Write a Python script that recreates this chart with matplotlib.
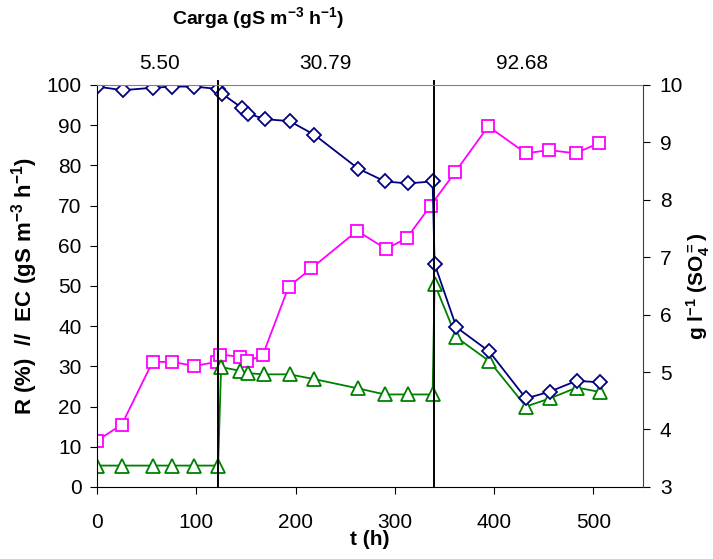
import matplotlib
matplotlib.use("Agg")
import matplotlib.pyplot as plt

plt.rcParams['font.family'] = ['Liberation Sans', 'DejaVu Sans']
plt.rcParams['mathtext.default'] = 'regular'

# R (%) - removal efficiency
t_r = [0, 26, 56, 76, 98, 122, 126, 146, 152, 169, 194, 219, 263, 290, 313, 338, 340, 362, 395, 432, 456, 483, 507]
r_val = [99.6, 98.7, 99.3, 99.6, 99.6, 99.0, 97.8, 94.3, 92.9, 91.5, 91.0, 87.6, 79.2, 76.0, 75.5, 76.0, 55.5, 39.7, 33.7, 22.0, 23.7, 26.4, 26.0]

# magenta squares
t_s = [0, 25, 56, 76, 98, 121, 124, 144, 151, 167, 193, 216, 262, 291, 312, 336, 361, 394, 432, 455, 482, 506]
s_val = [11.5, 15.5, 31.1, 31.1, 30.1, 31.1, 32.9, 32.4, 31.2, 32.8, 49.8, 54.4, 63.7, 59.2, 61.9, 70.0, 78.4, 89.7, 83.0, 83.8, 83.0, 85.6]

# EC - green triangles
t_ec = [0, 25, 56, 76, 98, 122, 125, 144, 152, 168, 194, 219, 263, 290, 313, 338, 340, 362, 395, 432, 456, 483, 507]
ec_val = [5.3, 5.3, 5.3, 5.3, 5.3, 5.3, 29.8, 28.9, 28.3, 28.0, 28.0, 26.8, 24.5, 23.0, 23.0, 23.0, 50.5, 37.2, 31.3, 20.0, 22.0, 24.7, 23.6]

stage_bounds = [122, 339]
stage_labels = ['5.50', '30.79', '92.68']
stage_label_x = [63, 230, 428]

fig = plt.figure(figsize=(7.13, 5.59), dpi=100)
ax = fig.add_axes([0.136, 0.129, 0.766, 0.719])

ax.plot(t_s, s_val, color='#FF00FF', lw=1.3, marker='s', ms=9, mfc='white', mec='#FF00FF', mew=1.3)
ax.plot(t_ec, ec_val, color='#008000', lw=1.3, marker='^', ms=10, mfc='white', mec='#008000', mew=1.3)
ax.plot(t_r, r_val, color='#000080', lw=1.3, marker='D', ms=7, mfc='white', mec='#000080', mew=1.3)

for xb in stage_bounds:
    ax.axvline(xb, ymin=0, ymax=1.01, color='black', lw=1.4, clip_on=False)

ax.set_xlim(0, 550)
ax.set_ylim(0, 100)
ax.set_xticks([0, 100, 200, 300, 400, 500])
ax.set_yticks(range(0, 101, 10))
ax.tick_params(axis='x', direction='out', length=5, pad=14, labelsize=15)
ax.tick_params(axis='y', direction='out', length=5, pad=6, labelsize=15)
ax.spines['top'].set_color('#808080')
ax.spines['right'].set_visible(False)
ax.set_xlabel('t (h)', fontsize=15, fontweight='bold', labelpad=-2)
ax.set_ylabel('R (%)  //  EC (gS m$^{-3}$ h$^{-1}$)', fontsize=16, fontweight='bold', labelpad=5)

ax2 = ax.twinx()
ax2.set_ylim(3, 10)
ax2.set_yticks(range(3, 11))
ax2.tick_params(axis='y', direction='out', length=5, pad=7, labelsize=15)
for s in ['top', 'left', 'bottom']:
    ax2.spines[s].set_visible(False)
ax2.spines['right'].set_color('#404040')
ax2.set_ylabel('g l$^{-1}$ (SO$_4^{=}$)', fontsize=15, fontweight='bold', labelpad=1)

for lab, xl in zip(stage_labels, stage_label_x):
    ax.text(xl, 103, lab, ha='center', va='bottom', fontsize=15, clip_on=False)

fig.text(258 / 713, 1 - 18 / 559, 'Carga (gS m$^{-3}$ h$^{-1}$)', ha='center', va='center',
         fontsize=14, fontweight='bold')

fig.savefig('out.png', dpi=100)
